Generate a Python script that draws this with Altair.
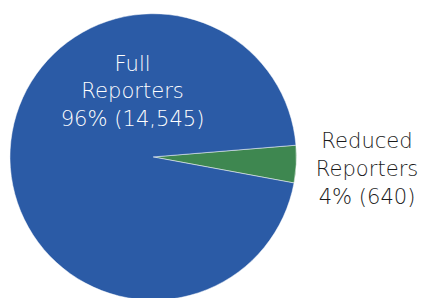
import altair as alt
import pandas as pd

categories = ["Reduced Reporters", "Full Reporters"]
counts = [640, 14545]
labels = ["Reduced\nReporters\n4% (640)", "Full\nReporters\n96% (14,545)"]
colors = ["#3E8750", "#2B5BA6"]

df = pd.DataFrame({"category": categories, "count": counts, "label": labels, "order": [0, 1]})

start = 85.3 * 3.14159265 / 180

pie = alt.Chart(df).mark_arc(outerRadius=146, stroke="#ffffff", strokeWidth=0.5).encode(
    theta=alt.Theta("count:Q", stack=True, scale=alt.Scale(range=[start, start + 2 * 3.14159265])),
    order=alt.Order("order:Q"),
    color=alt.Color("category:N", scale=alt.Scale(domain=categories, range=colors), legend=None),
    x=alt.value(148),
    y=alt.value(149),
)

full_txt = alt.Chart(df[df["category"] == "Full Reporters"]).mark_text(
    fontSize=21.5, font="DejaVu Sans", fontWeight=200, color="#ffffff", lineBreak="\n", lineHeight=28,
    align="center", baseline="middle"
).encode(text="label:N", x=alt.value(127), y=alt.value(55))

red_txt = alt.Chart(df[df["category"] == "Reduced Reporters"]).mark_text(
    fontSize=21.5, font="DejaVu Sans", fontWeight=200, color="#1a1a1a", lineBreak="\n", lineHeight=28.5,
    align="center", baseline="middle"
).encode(text="label:N", x=alt.value(366), y=alt.value(134))

chart = alt.layer(pie, full_txt, red_txt).properties(
    width=295, height=290,
    autosize=alt.AutoSizeParams(type="none"),
    padding={"left": 0, "top": 0, "right": 126, "bottom": 0},
).configure_view(stroke=None)

chart.save("out.html", embed_options={"renderer": "svg", "actions": False})
